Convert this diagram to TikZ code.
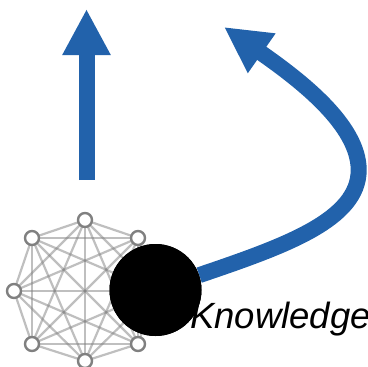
\documentclass[tikz,border=0pt]{standalone}
\usepackage{fontspec}
\setmainfont{Liberation Sans}
\usetikzlibrary{arrows.meta}
\definecolor{arrowblue}{HTML}{2262AB}
\tikzset{
    peer/.style={circle, draw=gray, fill=white, line width=2.4pt, minimum size=14pt, inner sep=0pt},
    link/.style={draw=gray, draw opacity=0.5, line width=2.2pt},
    flow/.style={draw=arrowblue, line width=16pt, -{Triangle[width=45pt,length=46pt,fill=arrowblue]}}
}

\begin{document}
\begin{tikzpicture}[x=1pt,y=-1pt]
    \useasboundingbox (0,0) rectangle (367,367);

    % Peers of the mesh
    \foreach \n/\x/\y in {1/156/291, 2/138/238, 3/85/220, 4/32/238, 5/14/291, 6/32/344, 7/85/361, 8/138/344} {
        \coordinate (p\n) at (\x,\y);
    }

    % Links between all peers
    \foreach \a in {1,...,8} {
        \foreach \b in {1,...,8} {
            \ifnum\a<\b
                \draw[link] (p\a) -- (p\b);
            \fi
        }
    }
    \foreach \n in {2,...,8} {
        \node[peer] (n\n) at (p\n) {};
    }

    % Straight arrow
    \coordinate (upstart) at (86.5,180);
    \coordinate (uptip) at (86.5,9);
    \draw[flow] (upstart) -- (uptip);

    % Black point and curved arrow
    \node[circle, fill=black, minimum size=92pt, inner sep=0pt] (hub) at (155.5,290) {};
    \coordinate (bend) at (358.7,170);
    \coordinate (curvetip) at (224,27);
    \draw[flow] (hub) .. controls (285,246) and (358.7,220) .. (bend) .. controls (358.7,125) and (300,80) .. (curvetip);
    \fill[black] (hub) circle (46pt);

    % Label
    \node[anchor=base west, inner sep=0pt] (label) at (190,328) {\fontsize{36.5pt}{36.5pt}\selectfont\itshape Knowledge};
\end{tikzpicture}
\end{document}
